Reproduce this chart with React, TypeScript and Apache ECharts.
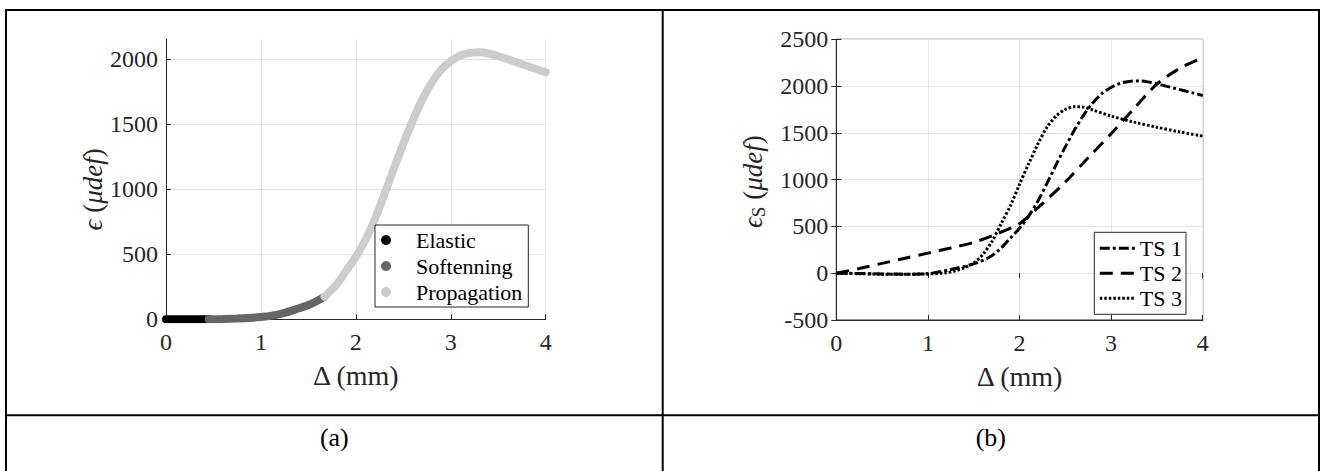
import React, { useEffect, useRef } from "react";
import * as echarts from "echarts";

// ---- data (a) ----
const elasticDelta = [0, 0.1, 0.2, 0.3, 0.45];
const elasticStrain = [0, 0, 0, 0, 0];
const softDelta = [0.45, 0.6, 0.75, 0.9, 1.0, 1.1, 1.25, 1.4, 1.5, 1.6, 1.67];
const softStrain = [0, 2, 6, 12, 18, 26, 50, 85, 110, 145, 175];
const propDelta = [1.67, 1.8, 1.9, 2.0, 2.1, 2.2, 2.3, 2.4, 2.5, 2.6, 2.7, 2.8, 2.9, 3.0, 3.1, 3.2, 3.3, 3.4, 3.5, 3.6, 3.7, 3.8, 3.9, 4.0];
const propStrain = [175, 270, 375, 480, 610, 770, 960, 1160, 1350, 1530, 1690, 1820, 1920, 1985, 2030, 2050, 2055, 2045, 2025, 2000, 1975, 1950, 1925, 1900];

// ---- data (b) ----
const ts1Delta = [0, 0.25, 0.5, 0.75, 1.0, 1.25, 1.5, 1.67, 1.8, 1.9, 2.0, 2.1, 2.2, 2.3, 2.4, 2.5, 2.6, 2.7, 2.8, 2.9, 3.0, 3.1, 3.2, 3.3, 3.4, 3.5, 3.6, 3.7, 3.8, 3.9, 4.0];
const ts1Strain = [0, -3, -8, -10, -5, 40, 100, 170, 270, 375, 480, 610, 770, 960, 1160, 1350, 1530, 1690, 1820, 1920, 1985, 2030, 2050, 2055, 2045, 2025, 2000, 1975, 1950, 1925, 1900];
const ts2Delta = [0, 0.25, 0.5, 0.75, 1.0, 1.25, 1.5, 1.75, 2.0, 2.25, 2.5, 2.75, 3.0, 3.25, 3.5, 3.75, 4.0];
const ts2Strain = [0, 50, 105, 160, 215, 270, 330, 420, 530, 744, 975, 1235, 1490, 1760, 2020, 2190, 2305];
const ts3Delta = [0, 0.25, 0.5, 0.75, 1.0, 1.2, 1.3, 1.4, 1.5, 1.6, 1.7, 1.8, 1.9, 2.0, 2.1, 2.2, 2.3, 2.4, 2.5, 2.6, 2.7, 2.8, 3.0, 3.25, 3.5, 3.75, 4.0];
const ts3Strain = [0, -5, -10, -10, -8, 5, 25, 60, 110, 200, 340, 530, 720, 950, 1170, 1380, 1560, 1680, 1750, 1780, 1775, 1745, 1680, 1615, 1560, 1510, 1465];

const xTicksA = [0, 4, 1];
const yTicksA = [0, 2154, 500];
const xTicksB = [0, 4, 1];
const yTicksB = [-500, 2500, 500];

const captions = ["(a)", "(b)"];

const FONT = "'Liberation Serif', 'Times New Roman', serif";
const AX = "#262626";
const GRIDC = "#e3e3e3";

const zip = (xs: number[], ys: number[]) => xs.map((x, i) => [x, ys[i]]);

export default function App() {
  const ref = useRef<HTMLDivElement>(null);
  useEffect(() => {
    if (!ref.current) return;
    const chart = echarts.init(ref.current, undefined, { renderer: "svg" });

    const tickLabel = { fontFamily: FONT, fontSize: 24, color: AX, formatter: (v: number) => String(v) };
    const nameStyleRich = (pad: number) => ({
      fontFamily: FONT,
      fontSize: 27,
      color: AX,
      padding: [0, pad, 0, 0],
      rich: {
        i: { fontFamily: FONT, fontSize: 27, fontStyle: "italic", color: AX, lineHeight: 30 },
        t: { fontFamily: FONT, fontSize: 27, color: AX, lineHeight: 30 },
        s: { fontFamily: FONT, fontSize: 19, color: AX, lineHeight: 18, verticalAlign: "bottom" },
      },
    });

    const mkX = (gi: number, t: number[]) => ({
      type: "value",
      gridIndex: gi,
      min: t[0],
      max: t[1],
      interval: t[2],
      position: "bottom",
      axisLine: { show: true, onZero: false, lineStyle: { color: AX, width: 1 } },
      axisTick: { show: true, inside: true, length: 5, lineStyle: { color: AX } },
      axisLabel: { ...tickLabel, margin: 11 },
      splitLine: { show: true, lineStyle: { color: GRIDC, width: 1 } },
      name: "Δ (mm)",
      nameLocation: "middle",
      nameGap: 42,
      nameTextStyle: { fontFamily: FONT, fontSize: 28, color: AX },
    });
    const mkY = (gi: number, t: number[], name: string, gap: number, pad: number, hideMax = false) => ({
      type: "value",
      gridIndex: gi,
      min: t[0],
      max: t[1],
      interval: t[2],
      position: "left",
      axisLine: { show: true, onZero: false, lineStyle: { color: AX, width: 1 } },
      axisTick: { show: true, inside: true, length: 5, lineStyle: { color: AX } },
      axisLabel: { ...tickLabel, margin: 8, showMaxLabel: !hideMax },
      splitLine: { show: true, showMaxLine: !hideMax, lineStyle: { color: GRIDC, width: 1 } },
      name,
      nameLocation: "middle",
      nameGap: gap,
      nameTextStyle: nameStyleRich(pad),
    });

    const mirror = (kind: "x" | "y", gi: number, t: number[]) => ({
      type: "value",
      gridIndex: gi,
      min: t[0],
      max: t[1],
      interval: t[2],
      position: kind === "x" ? "top" : "right",
      axisLine: { show: false },
      axisTick: { show: true, inside: true, length: 5, lineStyle: { color: AX } },
      axisLabel: { show: false },
      splitLine: { show: false },
    });

    const lineBase = {
      type: "line",
      symbol: "none",
      smooth: 0.3,
      silent: true,
    };

    const option: any = {
      animation: false,
      backgroundColor: "#ffffff",
      grid: [
        { left: 166, top: 39.3, width: 379.7, height: 280, outerBoundsMode: "none", containLabel: false },
        {
          left: 836.3, top: 39.3, width: 366.4, height: 280.7, outerBoundsMode: "none", containLabel: false,
          show: true, borderColor: AX, borderWidth: 1, backgroundColor: "transparent",
        },
      ],
      xAxis: [mkX(0, xTicksA), mkX(1, xTicksB), mirror("x", 1, xTicksB)],
      yAxis: [
        mkY(0, yTicksA, "{i|ϵ}{t| (}{i|μdef}{t|)}", 52, 20, true),
        mkY(1, yTicksB, "{i|ϵ}{s|S}{t| (}{i|μdef}{t|)}", 68, 4),
        mirror("y", 1, yTicksB),
      ],
      legend: [
        {
          data: ["Elastic", "Softenning", "Propagation"],
          orient: "vertical",
          left: 375,
          top: 225,
          padding: [4, 6, 4, 6],
          itemGap: 4,
          itemWidth: 50,
          itemHeight: 10,
          icon: "circle",
          selectedMode: false,
          borderColor: AX,
          borderWidth: 1,
          borderRadius: 0,
          backgroundColor: "#ffffff",
          textStyle: { fontFamily: FONT, fontSize: 22, color: "#000", lineHeight: 22 },
        },
        {
          data: ["TS 1", "TS 2", "TS 3"],
          orient: "vertical",
          left: 1094.3,
          top: 232.3,
          padding: [5, 4, 5, 4],
          itemGap: 3,
          itemWidth: 35,
          itemHeight: 14,
          selectedMode: false,
          borderColor: AX,
          borderWidth: 1,
          borderRadius: 0,
          backgroundColor: "#ffffff",
          itemStyle: { color: "transparent", borderColor: "transparent", borderWidth: 0, opacity: 0 },
          lineStyle: { width: 3 },
          textStyle: { fontFamily: FONT, fontSize: 22, color: "#000", lineHeight: 22 },
        },
      ],
      series: [
        { ...lineBase, name: "Elastic", xAxisIndex: 0, yAxisIndex: 0, color: "#000000",
          lineStyle: { width: 8, color: "#000000", cap: "round" }, data: zip(elasticDelta, elasticStrain) },
        { ...lineBase, name: "Softenning", xAxisIndex: 0, yAxisIndex: 0, color: "#666666",
          lineStyle: { width: 8, color: "#666666", cap: "round" }, data: zip(softDelta, softStrain) },
        { ...lineBase, name: "Propagation", xAxisIndex: 0, yAxisIndex: 0, color: "#cccccc",
          lineStyle: { width: 8, color: "#cccccc", cap: "round" }, data: zip(propDelta, propStrain) },
        { ...lineBase, name: "TS 1", xAxisIndex: 1, yAxisIndex: 1, color: "#000000",
          lineStyle: { width: 3, color: "#000000", type: [10, 3, 3, 3] }, data: zip(ts1Delta, ts1Strain) },
        { ...lineBase, name: "TS 2", xAxisIndex: 1, yAxisIndex: 1, color: "#000000",
          lineStyle: { width: 3, color: "#000000", type: [13, 8] }, data: zip(ts2Delta, ts2Strain) },
        { ...lineBase, name: "TS 3", xAxisIndex: 1, yAxisIndex: 1, color: "#000000",
          lineStyle: { width: 3, color: "#000000", type: [2.5, 2] }, data: zip(ts3Delta, ts3Strain) },
      ],
      graphic: [
        { type: "line", shape: { x1: 5, y1: 10, x2: 1320, y2: 10 }, style: { stroke: "#000", lineWidth: 2 } },
        { type: "line", shape: { x1: 6, y1: 9, x2: 6, y2: 471 }, style: { stroke: "#000", lineWidth: 2 } },
        { type: "line", shape: { x1: 662.7, y1: 9, x2: 662.7, y2: 471 }, style: { stroke: "#000", lineWidth: 2 } },
        { type: "line", shape: { x1: 1319, y1: 9, x2: 1319, y2: 471 }, style: { stroke: "#000", lineWidth: 2 } },
        { type: "line", shape: { x1: 5, y1: 415.3, x2: 1320, y2: 415.3 }, style: { stroke: "#000", lineWidth: 2 } },
        { type: "text", x: 334.3, y: 437, style: { text: captions[0], fontFamily: FONT, fontSize: 26, fill: "#000", align: "center", verticalAlign: "middle" } },
        { type: "text", x: 990.8, y: 437, style: { text: captions[1], fontFamily: FONT, fontSize: 26, fill: "#000", align: "center", verticalAlign: "middle" } },
      ],
    };
    chart.setOption(option);
    return () => chart.dispose();
  }, []);
  return <div ref={ref} style={{ position: "absolute", left: 0, top: 0, width: 1320, height: 471 }} />;
}
